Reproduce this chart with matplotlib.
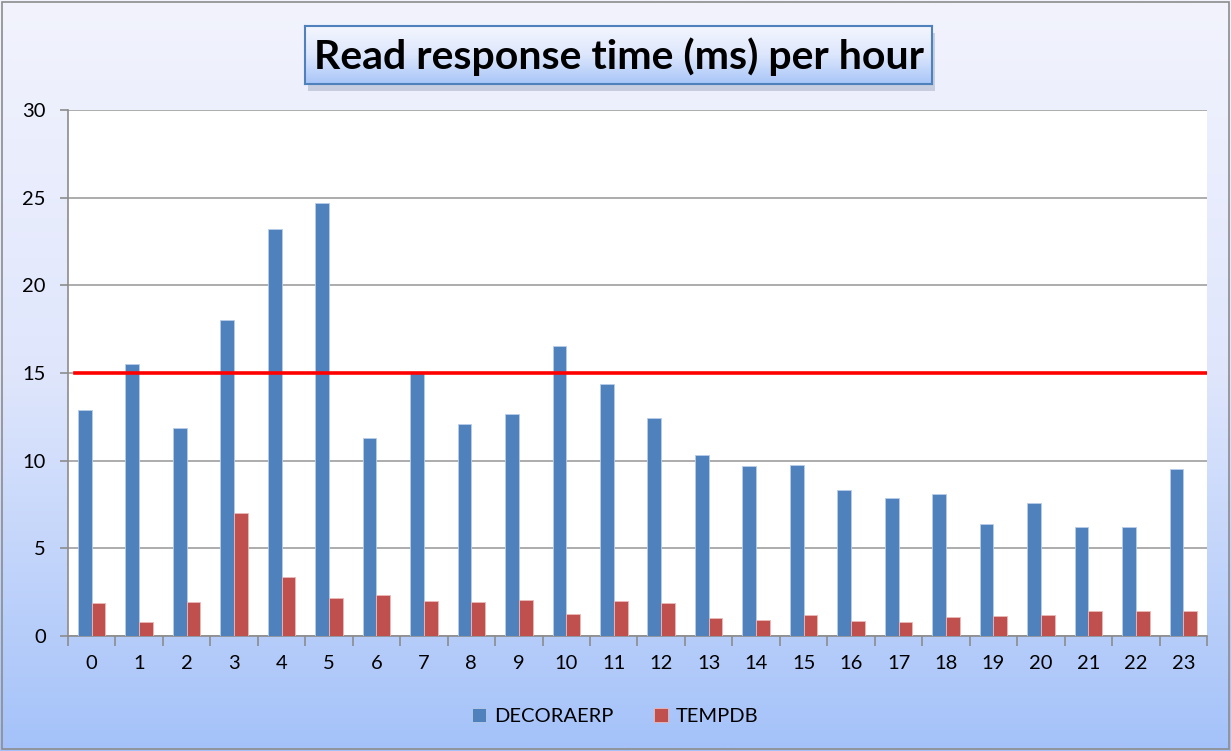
import matplotlib.pyplot as plt
import numpy as np
from matplotlib.patches import Rectangle
from matplotlib.colors import LinearSegmentedColormap

plt.rcParams['font.family'] = ['Lato', 'DejaVu Sans']

hours = list(range(24))
decoraerp = [12.9, 15.5, 11.85, 18.0, 23.2, 24.7, 11.3, 15.0, 12.1, 12.65, 16.55, 14.35,
             12.45, 10.35, 9.7, 9.75, 8.3, 7.85, 8.1, 6.4, 7.6, 6.2, 6.2, 9.5]
tempdb = [1.88, 0.8, 1.94, 7.0, 3.37, 2.17, 2.34, 2.0, 1.92, 2.05, 1.25, 1.98,
          1.87, 1.0, 0.93, 1.18, 0.87, 0.8, 1.07, 1.14, 1.2, 1.41, 1.41, 1.41]
threshold = 15

fig = plt.figure(figsize=(12.31, 7.51), dpi=100)

# gradient background for the whole chart area
bg = fig.add_axes([0, 0, 1, 1], zorder=-10)
bg_cmap = LinearSegmentedColormap.from_list('bg', ['#f2f3fd', '#dfe6fc', '#a4c2f9'])
bg.imshow(np.linspace(0, 1, 256).reshape(-1, 1), aspect='auto', cmap=bg_cmap,
          extent=[0, 1, 0, 1], origin='upper')
bg.set_axis_off()
fig.patches.append(Rectangle((0.002, 0.002), 0.996, 0.996, transform=fig.transFigure,
                             fill=False, edgecolor='#8c8c8c', lw=1.2))

# title box with gradient, border and shadow
fig.patches.append(Rectangle((0.2505, 0.879), 0.5093, 0.0772, transform=fig.transFigure,
                             facecolor='#8090aa', edgecolor='none', alpha=0.35, zorder=-5))
tax = fig.add_axes([0.2478, 0.8881, 0.5093, 0.0772])
t_cmap = LinearSegmentedColormap.from_list('t', ['#f4f6fe', '#dce6fc', '#a9c6f8'])
tax.imshow(np.linspace(0, 1, 64).reshape(-1, 1), aspect='auto', cmap=t_cmap,
           extent=[0, 1, 0, 1], origin='upper')
tax.set_xticks([])
tax.set_yticks([])
for s in tax.spines.values():
    s.set_edgecolor('#4f81bd')
    s.set_linewidth(1.5)
tax.text(0.5, 0.47, 'Read response time (ms) per hour', ha='center', va='center',
         fontsize=29.5, fontweight='bold', color='black', transform=tax.transAxes)

# main plot
ax = fig.add_axes([0.0552, 0.1531, 0.9253, 0.7004])
ax.set_facecolor('white')
x = np.arange(len(hours))
w = 0.29
ax.bar(x - w / 2, decoraerp, w, color='#4f81bd', edgecolor='#b9cde8', linewidth=0.6,
       label='DECORAERP', zorder=3)
ax.bar(x + w / 2, tempdb, w, color='#c0504d', edgecolor='#eab9b8', linewidth=0.6,
       label='TEMPDB', zorder=3)
ax.axhline(threshold, xmin=0.006, xmax=1, color='#ff0000', lw=2.6, zorder=4)

ax.set_xlim(-0.5, len(hours) - 0.5)
ax.set_ylim(0, 30)
ax.set_yticks(range(0, 31, 5))
ax.yaxis.grid(True, color='#a6a6a6', lw=1.3, zorder=0)
ax.set_xticks(x)
ax.set_xticklabels([str(h) for h in hours], fontsize=14.5)
ax.set_xticks(np.arange(-0.5, len(hours), 1), minor=True)
ax.tick_params(axis='x', which='major', length=0, pad=14)
ax.tick_params(axis='x', which='minor', length=7, color='#8c8c8c', width=1.2)
ax.tick_params(axis='y', length=6, color='#8c8c8c', width=1.2, labelsize=14.5, pad=10)
for side in ['top', 'right']:
    ax.spines[side].set_visible(False)
for side in ['left', 'bottom']:
    ax.spines[side].set_color('#8c8c8c')
    ax.spines[side].set_linewidth(1.2)

fig.legend(loc='center', bbox_to_anchor=(0.5, 0.046), ncol=2, frameon=False,
           fontsize=14.5, handlelength=0.7, handleheight=0.7, columnspacing=2.0,
           handletextpad=0.4)

fig.savefig('out.png', dpi=100)
